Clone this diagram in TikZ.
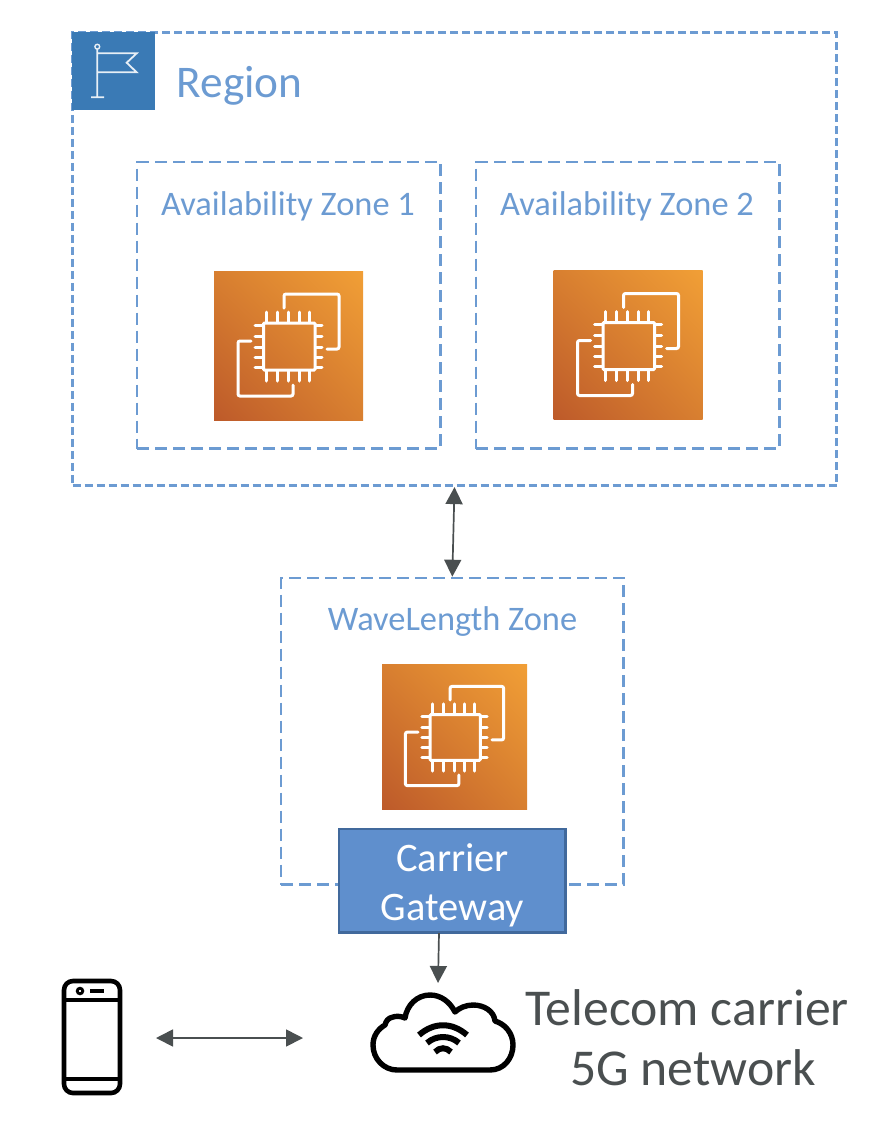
\documentclass[tikz,border=0pt]{standalone}
\usepackage{fontspec}
\setmainfont{Carlito}
\usetikzlibrary{arrows.meta,shadings}
\definecolor{zoneblue}{HTML}{6C9BD2}
\definecolor{flagblue}{HTML}{3A7AB5}
\definecolor{gwfill}{HTML}{5F8FCD}
\definecolor{gwedge}{HTML}{41699C}
\definecolor{darkgrey}{HTML}{4A4F50}
\definecolor{ecdark}{HTML}{BD5A2A}
\definecolor{eclight}{HTML}{F19F36}
\definecolor{ecmid}{HTML}{D87F30}
\tikzset{
  x=1pt,y=-1pt,
  regionbox/.style={draw=zoneblue,line width=2.7pt,dash pattern=on 8pt off 4pt,minimum width=764pt,minimum height=453.5pt,inner sep=0pt},
  zonebox/.style={draw=zoneblue,line width=2.7pt,dash pattern=on 12pt off 6pt,inner sep=0pt},
  zonelabel/.style={text=zoneblue,font=\fontsize{34.4}{40}\selectfont,inner sep=0pt},
  ecsquare/.style={inner sep=0pt,minimum size=#1,shade,shading=bilinear interpolation,lower left=ecdark,upper right=eclight,upper left=ecmid,lower right=ecmid},
  ecline/.style={draw=white,line width=3pt,line cap=round,rounded corners=2pt},
  arrowline/.style={draw=darkgrey,line width=1.7pt,{Triangle[length=17pt,width=17pt]}-{Triangle[length=17pt,width=17pt]}},
  wifi/.style={draw=black,line width=6pt},
}
\newcommand{\ecpaths}{%
  \draw[ecline] (70,37) -- (70,23) -- (125,23) -- (125,78) -- (113,78);
  \draw[ecline] (37,70) -- (24,70) -- (24,125) -- (79,125) -- (79,114);
  \draw[ecline,rounded corners=1pt] (49.5,52) rectangle (101,99);
  \foreach \t in {52,63,74,85,95}{
    \draw[ecline] (\t,41) -- (\t,51);
    \draw[ecline] (\t,100) -- (\t,110);
  }
  \foreach \t in {54,65,76,86,96}{
    \draw[ecline] (41,\t) -- (49,\t);
    \draw[ecline] (102,\t) -- (108,\t);
  }%
}
\begin{document}
\begin{tikzpicture}
\useasboundingbox (0,0) rectangle (874,1138);
% containers
\node[regionbox] (region) at (454.5,259) {};
\node[zonebox,minimum width=303.5pt,minimum height=286.5pt] (az1) at (288.8,305.3) {};
\node[zonebox,minimum width=303.5pt,minimum height=286.5pt] (az2) at (627.8,305.3) {};
\node[zonebox,minimum width=342.5pt,minimum height=306.5pt] (wl) at (452.3,731.3) {};
% region tag
\node[fill=flagblue,minimum width=83pt,minimum height=78pt,inner sep=0pt] (flagbox) at (113.5,71) {};
\draw[draw=white!88!flagblue,line width=1.8pt] (97.3,49) -- (97.3,97.3) (91,97.3) -- (104,97.3)
  (97.3,53.3) -- (136.7,53.3) -- (126.7,62.7) -- (136.7,72.3) -- (97.3,72.3);
\draw[draw=white!88!flagblue,line width=1.4pt] (97.3,46.7) circle (2.4pt);
\node[text=zoneblue,font=\fontsize{45.3}{52}\selectfont,inner sep=0pt] (regionlabel) at (239.5,85.5) {Region};
% labels
\node[zonelabel] (az1label) at (288,206) {Availability Zone 1};
\node[zonelabel] (az2label) at (627,206) {Availability Zone 2};
\node[zonelabel] (wllabel) at (452.5,622) {WaveLength Zone};
% EC2 icons
\node[ecsquare=149pt] (ec1) at (288.5,345.5) {};
\begin{scope}[shift={(214,271)}]\ecpaths\end{scope}
\node[ecsquare=149pt] (ec2) at (628,345) {};
\begin{scope}[shift={(553.5,270.5)}]\ecpaths\end{scope}
\node[ecsquare=145pt] (ec3) at (454.5,736.5) {};
\begin{scope}[shift={(382,664)},x=0.973pt,y=-0.973pt]\ecpaths\end{scope}
% gateway
\node[draw=gwedge,fill=gwfill,line width=2.6pt,minimum width=226.5pt,minimum height=103.5pt,inner sep=0pt] (gw) at (452.3,880.8) {};
\node[align=center,text=white,font=\fontsize{40.5}{49}\selectfont,inner sep=0pt] (gwlabel) at (452.5,885) {Carrier\\Gateway};
% phone
\node[draw=black,line width=4.6pt,rounded corners=9pt,minimum width=56pt,minimum height=112pt,inner sep=0pt] (phone) at (92,1037) {};
\draw[black,line width=3.8pt] (63,1000) -- (121,1000) (63,1079) -- (121,1079);
\draw[black,line width=2.8pt] (80,991) circle (2.8pt);
\draw[black,line width=4.6pt] (90,991) -- (103.5,991);
% cloud
\draw[draw=black,line width=5.4pt,line join=round] (397,1070) -- (490,1070)
  .. controls (504,1070) and (513,1058) .. (513,1045)
  .. controls (513,1033) and (505,1024) .. (495,1021)
  .. controls (494,1011) and (484,1005) .. (473,1005)
  .. controls (466,1005) and (459,1008) .. (455,1012)
  .. controls (450,1002) and (441,995) .. (430,995)
  .. controls (417,995) and (407,1005) .. (405,1018)
  .. controls (401,1016) and (396,1016) .. (393,1017)
  .. controls (388,1018) and (386,1021) .. (385,1025)
  .. controls (378,1029) and (373,1036) .. (373,1045)
  .. controls (373,1059) and (384,1070) .. (397,1070) -- cycle;
\draw[wifi] (419,1035) .. controls (434,1022) and (452,1022) .. (467,1035);
\draw[wifi] (427,1043) .. controls (436,1035) and (450,1035) .. (459,1043);
\draw[wifi] (435,1052) .. controls (440,1047) and (446,1047) .. (451,1052);
\node[text=darkgrey,font=\fontsize{51.7}{60}\selectfont,align=center,inner sep=0pt] (telecom) at (687,1038) {Telecom carrier\\\hspace*{12pt}5G network};
% connectors
\coordinate (phoneport) at (156,1038);
\coordinate (cloudport) at (303,1038);
\coordinate (gwport) at (439,933);
\coordinate (cloudtop) at (438,983);
\draw[arrowline] (region.south) -- (wl.north);
\draw[arrowline] (phoneport) -- (cloudport);
\draw[draw=darkgrey,line width=1.7pt,-{Triangle[length=17pt,width=17pt]}] (gwport) -- (cloudtop);
\end{tikzpicture}
\end{document}
